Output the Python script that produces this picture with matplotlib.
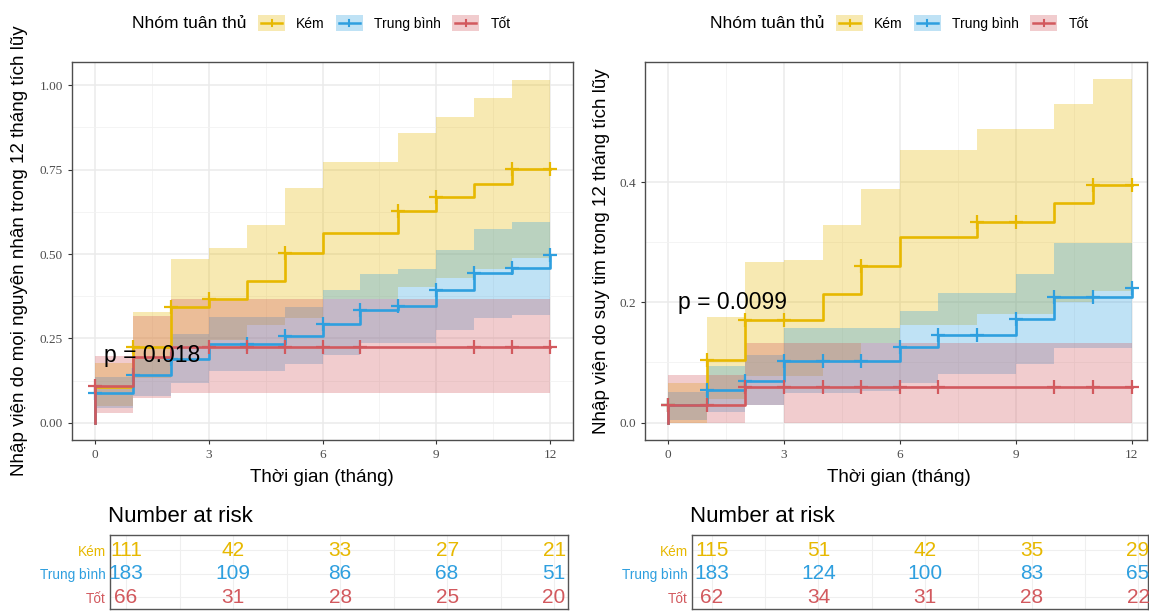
import numpy as np
import matplotlib
matplotlib.use('Agg')
import matplotlib.pyplot as plt
from matplotlib.patches import Patch, Rectangle
from matplotlib.lines import Line2D

plt.rcParams['font.family'] = ['Liberation Sans', 'DejaVu Sans']

groups = ['Kém', 'Trung bình', 'Tốt']
colors = ['#E7B800', '#2E9FDF', '#D2595E']
months = np.arange(13)

# panel 1: all-cause hospitalisation (value on [t, t+1), last = value at 12)
ac_kem_est = [0.105, 0.224, 0.343, 0.366, 0.420, 0.502, 0.563, 0.563, 0.629, 0.670, 0.709, 0.751, 0.751]
ac_kem_lo = [0.049, 0.133, 0.227, 0.245, 0.290, 0.311, 0.366, 0.366, 0.402, 0.430, 0.457, 0.487, 0.487]
ac_kem_hi = [0.178, 0.329, 0.485, 0.518, 0.586, 0.695, 0.774, 0.774, 0.860, 0.907, 0.961, 1.017, 1.017]
ac_tb_est = [0.089, 0.143, 0.188, 0.233, 0.233, 0.256, 0.292, 0.333, 0.346, 0.392, 0.443, 0.458, 0.496]
ac_tb_lo = [0.045, 0.080, 0.119, 0.152, 0.152, 0.173, 0.200, 0.237, 0.237, 0.274, 0.311, 0.319, 0.319]
ac_tb_hi = [0.135, 0.188, 0.262, 0.312, 0.312, 0.343, 0.392, 0.440, 0.457, 0.512, 0.573, 0.595, 0.595]
ac_tot_est = [0.109, 0.196, 0.224, 0.224, 0.224, 0.224, 0.224, 0.224, 0.224, 0.224, 0.224, 0.224, 0.224]
ac_tot_lo = [0.030, 0.074, 0.087, 0.087, 0.087, 0.087, 0.087, 0.087, 0.087, 0.087, 0.087, 0.087, 0.087]
ac_tot_hi = [0.198, 0.316, 0.366, 0.366, 0.366, 0.366, 0.366, 0.366, 0.366, 0.366, 0.366, 0.366, 0.366]
ac_kem_cens = [1, 2, 3, 5, 8, 9, 11, 12]
ac_tb_cens = [0, 1, 2, 4, 5, 6, 7, 8, 9, 10, 11, 12]
ac_tot_cens = [0, 3, 4, 5, 6, 7, 10, 11, 12]

# panel 2: heart-failure hospitalisation
hf_kem_est = [0.030, 0.104, 0.170, 0.170, 0.214, 0.261, 0.309, 0.309, 0.333, 0.333, 0.365, 0.395, 0.395]
hf_kem_lo = [0.000, 0.039, 0.077, 0.077, 0.100, 0.133, 0.163, 0.163, 0.180, 0.180, 0.201, 0.219, 0.219]
hf_kem_hi = [0.066, 0.175, 0.268, 0.270, 0.329, 0.389, 0.454, 0.454, 0.489, 0.489, 0.530, 0.571, 0.571]
hf_tb_est = [0.029, 0.054, 0.070, 0.102, 0.102, 0.102, 0.125, 0.146, 0.146, 0.172, 0.209, 0.209, 0.224]
hf_tb_lo = [0.005, 0.017, 0.030, 0.050, 0.050, 0.053, 0.066, 0.080, 0.080, 0.097, 0.124, 0.124, 0.124]
hf_tb_hi = [0.051, 0.094, 0.113, 0.157, 0.157, 0.158, 0.186, 0.216, 0.216, 0.247, 0.298, 0.298, 0.298]
hf_tot_est = [0.030, 0.030, 0.059, 0.059, 0.059, 0.059, 0.059, 0.059, 0.059, 0.059, 0.059, 0.059, 0.059]
hf_tot_lo = [0.000, 0.000, 0.029, 0.000, 0.000, 0.000, 0.000, 0.000, 0.000, 0.000, 0.000, 0.000, 0.000]
hf_tot_hi = [0.079, 0.079, 0.133, 0.133, 0.133, 0.133, 0.133, 0.133, 0.133, 0.133, 0.133, 0.133, 0.133]
hf_kem_cens = [0, 1, 2, 3, 5, 8, 9, 11, 12]
hf_tb_cens = [0, 1, 2, 3, 4, 5, 6, 7, 8, 9, 10, 11, 12]
hf_tot_cens = [0, 1, 2, 3, 4, 5, 6, 7, 10, 11, 12]

risk_times = [0, 3, 6, 9, 12]
ac_risk = [[111, 42, 33, 27, 21], [183, 109, 86, 68, 51], [66, 31, 28, 25, 20]]
hf_risk = [[115, 51, 42, 35, 29], [183, 124, 100, 83, 65], [62, 34, 31, 28, 22]]

W, H = 1149, 612
fig = plt.figure(figsize=(W / 100, H / 100), dpi=100)


def box(x0, y0, x1, y1):
    return [x0 / W, 1 - y1 / H, (x1 - x0) / W, (y1 - y0) / H]


class KeyHandler:
    # shaded square with a '+' crossing it, like the ggplot key
    def legend_artist(self, legend, orig_handle, fontsize, handlebox):
        x0, y0 = -handlebox.xdescent, -handlebox.ydescent
        w, h = handlebox.width, handlebox.height
        c = orig_handle.get_edgecolor()
        tr = handlebox.get_transform()
        rect = Rectangle((x0, y0), w, h, facecolor=c, alpha=0.3, edgecolor='none', transform=tr)
        hline = Line2D([x0 + 0.12 * w, x0 + 0.88 * w], [y0 + h / 2] * 2, color=c, lw=1.8, transform=tr)
        vline = Line2D([x0 + w / 2] * 2, [y0 + 0.3 * h, y0 + 0.7 * h], color=c, lw=1.5, transform=tr)
        for a in (rect, hline, vline):
            handlebox.add_artist(a)
        return rect


def draw_panel(ax, est, lo, hi, cens, ylim, yticks, yfmt, ptxt):
    for g in range(3):
        ax.fill_between(months, lo[g], hi[g], step='post', color=colors[g], alpha=0.3, lw=0)
    for g in range(3):
        ax.step(np.r_[0, months], np.r_[0, est[g]], where='post', color=colors[g], lw=1.9)
        ax.plot(cens[g], np.array(est[g])[cens[g]], '+', color=colors[g], ms=10, mew=1.6)
    ax.set_xlim(-0.6, 12.6)
    ax.set_ylim(*ylim)
    ax.set_xticks([0, 3, 6, 9, 12])
    ax.set_xticks([1.5, 4.5, 7.5, 10.5], minor=True)
    ax.set_yticks(yticks)
    ax.set_yticks(np.array(yticks[:-1]) + (yticks[1] - yticks[0]) / 2, minor=True)
    ax.set_yticklabels([yfmt.format(v) for v in yticks])
    ax.grid(which='major', color='#EBEBEB', lw=1.1)
    ax.grid(which='minor', color='#F2F2F2', lw=0.6)
    ax.set_axisbelow(True)
    ax.tick_params(which='major', length=3, color='#333333', labelsize=9.5, labelcolor='#4D4D4D')
    ax.tick_params(which='minor', length=0)
    for lbl in ax.get_xticklabels() + ax.get_yticklabels():
        lbl.set_family('Liberation Serif')
    for s in ax.spines.values():
        s.set_color('#4D4D4D')
        s.set_linewidth(1.0)
    ax.text(0.25, 0.2, ptxt, fontsize=16.5, va='center', ha='left')


def draw_table(ax, risk, xlim):
    for g in range(3):
        for t, n in zip(risk_times, risk[g]):
            ax.text(t, 2 - g, str(n), ha='center', va='center', color=colors[g], fontsize=15)
    ax.set_xlim(*xlim)
    ax.set_ylim(-0.51, 2.64)
    ax.set_xticks([0, 3, 6, 9, 12])
    ax.set_xticks([1.5, 4.5, 7.5, 10.5], minor=True)
    ax.set_xticklabels([])
    ax.set_yticks([2, 1, 0])
    ax.set_yticklabels(groups)
    for lbl, c in zip(ax.get_yticklabels(), colors):
        lbl.set_color(c)
    ax.tick_params(which='both', length=0, labelsize=9.8, pad=3)
    ax.grid(which='both', color='#EFEFEF', lw=0.8)
    ax.set_axisbelow(True)
    for s in ax.spines.values():
        s.set_color('#555555')
        s.set_linewidth(1.0)


def draw_legend(x_title, x_keys):
    fig.text(x_title / W, 1 - 23 / H, 'Nhóm tuân thủ', fontsize=12.5, va='center', ha='left')
    handles = [Patch(edgecolor=c, facecolor='none') for c in colors]
    fig.legend(handles, groups, loc='center left', bbox_to_anchor=(x_keys / W, 1 - 23 / H),
               ncol=3, frameon=False, fontsize=10, handlelength=1.95, handleheight=1.4,
               handletextpad=0.8, columnspacing=0.8, borderpad=0, borderaxespad=0,
               handler_map={Patch: KeyHandler()})


ax1 = fig.add_axes(box(72, 62, 573, 440))
draw_panel(ax1, [ac_kem_est, ac_tb_est, ac_tot_est], [ac_kem_lo, ac_tb_lo, ac_tot_lo],
           [ac_kem_hi, ac_tb_hi, ac_tot_hi], [ac_kem_cens, ac_tb_cens, ac_tot_cens],
           (-0.051, 1.069), [0, 0.25, 0.5, 0.75, 1.0], '{:.2f}', 'p = 0.018')

ax2 = fig.add_axes(box(645, 62, 1147, 440))
draw_panel(ax2, [hf_kem_est, hf_tb_est, hf_tot_est], [hf_kem_lo, hf_tb_lo, hf_tot_lo],
           [hf_kem_hi, hf_tb_hi, hf_tot_hi], [hf_kem_cens, hf_tb_cens, hf_tot_cens],
           (-0.029, 0.600), [0, 0.2, 0.4], '{:.1f}', 'p = 0.0099')
ax2.set_xlim(-0.6, 12.4)

fig.text(20 / W, 1 - 251 / H, 'Nhập viện do mọi nguyên nhân trong 12 tháng tích lũy',
         rotation=90, fontsize=13.5, ha='center', va='center')
fig.text(601 / W, 1 - 251 / H, 'Nhập viện do suy tim trong 12 tháng tích lũy',
         rotation=90, fontsize=13.5, ha='center', va='center')
fig.text(322 / W, 1 - 478 / H, 'Thời gian (tháng)', fontsize=13.5, ha='center', va='center')
fig.text(899 / W, 1 - 478 / H, 'Thời gian (tháng)', fontsize=13.5, ha='center', va='center')

draw_legend(132, 258)
draw_legend(710, 836)

fig.text(108 / W, 1 - 517 / H, 'Number at risk', fontsize=16, ha='left', va='center')
fig.text(690 / W, 1 - 517 / H, 'Number at risk', fontsize=16, ha='left', va='center')

t1 = fig.add_axes(box(110, 535, 568, 609))
draw_table(t1, ac_risk, (-0.45, 12.39))
t2 = fig.add_axes(box(692, 535, 1148, 609))
draw_table(t2, hf_risk, (-0.56, 12.28))

fig.savefig('out.png', dpi=100, facecolor='white')
